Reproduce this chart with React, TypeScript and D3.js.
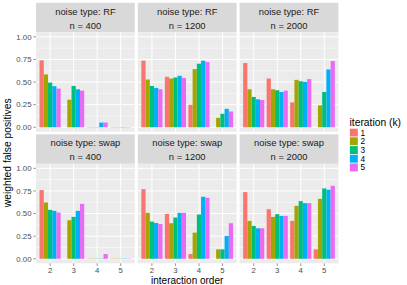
import React from 'react'
import * as d3 from 'd3'

const noiseTypes = ['RF', 'swap']
const sampleSizes = [400, 1200, 2000]
const orders = ['2', '3', '4', '5']
const iterations = ['1', '2', '3', '4', '5']
const yTicks = [0, 0.25, 0.5, 0.75, 1]
const colors = ['#F8766D', '#A3A500', '#00BF7D', '#00B0F6', '#E76BF3']

// values[order][iteration]
const rf400 = [
  [0.74, 0.584, 0.494, 0.454, 0.428],
  [0, 0.305, 0.457, 0.42, 0.405],
  [0.003, 0.003, 0.003, 0.052, 0.052],
  [0.003, 0.003, 0.003, 0.003, 0.003],
]
const rf1200 = [
  [0.736, 0.528, 0.457, 0.435, 0.42],
  [0.558, 0.539, 0.55, 0.569, 0.546],
  [0.249, 0.643, 0.703, 0.736, 0.721],
  [0, 0.104, 0.149, 0.204, 0.175],
]
const rf2000 = [
  [0.71, 0.42, 0.335, 0.309, 0.301],
  [0.539, 0.42, 0.409, 0.39, 0.405],
  [0.275, 0.524, 0.509, 0.502, 0.532],
  [0, 0.242, 0.39, 0.639, 0.732],
]
const swap400 = [
  [0.759, 0.622, 0.541, 0.53, 0.511],
  [0, 0.426, 0.463, 0.53, 0.607],
  [0.003, 0.003, 0.003, 0.003, 0.052],
  [0.003, 0.003, 0.003, 0.003, 0.003],
]
const swap1200 = [
  [0.77, 0.507, 0.411, 0.396, 0.385],
  [0.496, 0.393, 0.456, 0.507, 0.507],
  [0.052, 0.289, 0.489, 0.685, 0.674],
  [0, 0.104, 0.104, 0.252, 0.393],
]
const swap2000 = [
  [0.737, 0.419, 0.363, 0.337, 0.337],
  [0.548, 0.463, 0.493, 0.474, 0.474],
  [0.419, 0.585, 0.637, 0.615, 0.615],
  [0.104, 0.663, 0.778, 0.763, 0.807],
]
const panelValues = [
  [rf400, rf1200, rf2000],
  [swap400, swap1200, swap2000],
]

const W = 407
const H = 285
const panelLeft = 36
const panelW = 98.8
const gapX = 3
const stripH = 29.5
const panelH = 99.5
const rowTops = [2.8, 134.3]
const font = 'Liberation Sans, Arial, sans-serif'

const x = d3.scalePoint<string>().domain(orders).range([0, panelW]).padding(0.6)
const step = x.step()
const xInner = d3.scaleBand<string>().domain(iterations).range([-0.45 * step, 0.45 * step])
const y = d3.scaleLinear().domain([-0.05, 1.05]).range([panelH, 0])
const color = d3.scaleOrdinal<string, string>().domain(iterations).range(colors)
const minorTicks = d3.range(0.125, 1, 0.25)

const Panel = ({ row, col }: { row: number; col: number }) => {
  const px = panelLeft + col * (panelW + gapX)
  const top = rowTops[row]
  const vals = panelValues[row][col]
  return (
    <g transform={`translate(${px},${top})`}>
      <rect width={panelW} height={stripH} fill="#D9D9D9" />
      <text x={panelW / 2} y={12.2} textAnchor="middle" fontSize={9.4} fill="#1A1A1A">
        noise type: {noiseTypes[row]}
      </text>
      <text x={panelW / 2} y={26.2} textAnchor="middle" fontSize={9.4} fill="#1A1A1A">
        n = {sampleSizes[col]}
      </text>
      <g transform={`translate(0,${stripH})`}>
        <rect width={panelW} height={panelH} fill="#EBEBEB" />
        {minorTicks.map((t) => (
          <line key={'m' + t} x1={0} x2={panelW} y1={y(t)} y2={y(t)} stroke="#fff" strokeWidth={0.5} />
        ))}
        {yTicks.map((t) => (
          <line key={'y' + t} x1={0} x2={panelW} y1={y(t)} y2={y(t)} stroke="#fff" strokeWidth={1} />
        ))}
        {orders.map((o) => (
          <line key={'x' + o} x1={x(o)} x2={x(o)} y1={0} y2={panelH} stroke="#fff" strokeWidth={1} />
        ))}
        {orders.map((o, i) =>
          iterations.map((it, j) => (
            <rect
              key={o + it}
              x={x(o)! + xInner(it)!}
              width={xInner.bandwidth()}
              y={y(vals[i][j])}
              height={y(0) - y(vals[i][j])}
              fill={color(it)}
            />
          ))
        )}
        {col === 0 &&
          yTicks.map((t) => (
            <g key={'yt' + t}>
              <line x1={-2.7} x2={0} y1={y(t)} y2={y(t)} stroke="#333" strokeWidth={0.5} />
              <text x={-4.5} y={y(t)} dy="0.35em" textAnchor="end" fontSize={7.8} fill="#4D4D4D">
                {d3.format('.2f')(t)}
              </text>
            </g>
          ))}
        {row === 1 &&
          orders.map((o) => (
            <g key={'xt' + o}>
              <line x1={x(o)} x2={x(o)} y1={panelH} y2={panelH + 2.7} stroke="#333" strokeWidth={0.5} />
              <text x={x(o)} y={panelH + 9.6} textAnchor="middle" fontSize={7.8} fill="#4D4D4D">
                {o}
              </text>
            </g>
          ))}
      </g>
    </g>
  )
}

const App = () => {
  const plotW = 3 * panelW + 2 * gapX
  const rows = [0, 1]
  const cols = [0, 1, 2]
  const legendTop = 128.3
  const keySize = 8.7
  return (
    <svg
      width={W}
      height={H}
      style={{ position: 'absolute', left: 0, top: 0, background: '#fff' }}
      fontFamily={font}
    >
      {rows.map((r) => cols.map((c) => <Panel key={`${r}-${c}`} row={r} col={c} />))}
      <text x={panelLeft + plotW / 2} y={283.6} textAnchor="middle" fontSize={10} fill="#000">
        interaction order
      </text>
      <text
        transform={`translate(10.5,${(rowTops[0] + stripH + rowTops[1] + stripH + panelH) / 2 + 5}) rotate(-90)`}
        textAnchor="middle"
        fontSize={10.3}
        fill="#000"
      >
        weighted false positives
      </text>
      <g transform={`translate(349.5,${legendTop})`}>
        <text x={0} y={-2.5} fontSize={10.3} fill="#000">
          iteration (k)
        </text>
        {iterations.map((it, i) => (
          <g key={it} transform={`translate(0,${i * keySize})`}>
            <rect width={keySize} height={keySize} fill="#F2F2F2" stroke="#fff" strokeWidth={0.5} />
            <rect x={0.4} y={0.4} width={keySize - 0.8} height={keySize - 0.8} fill={color(it)} />
            <text x={keySize + 2.2} y={keySize / 2} dy="0.35em" fontSize={8.3} fill="#000">
              {it}
            </text>
          </g>
        ))}
      </g>
    </svg>
  )
}

export default App
